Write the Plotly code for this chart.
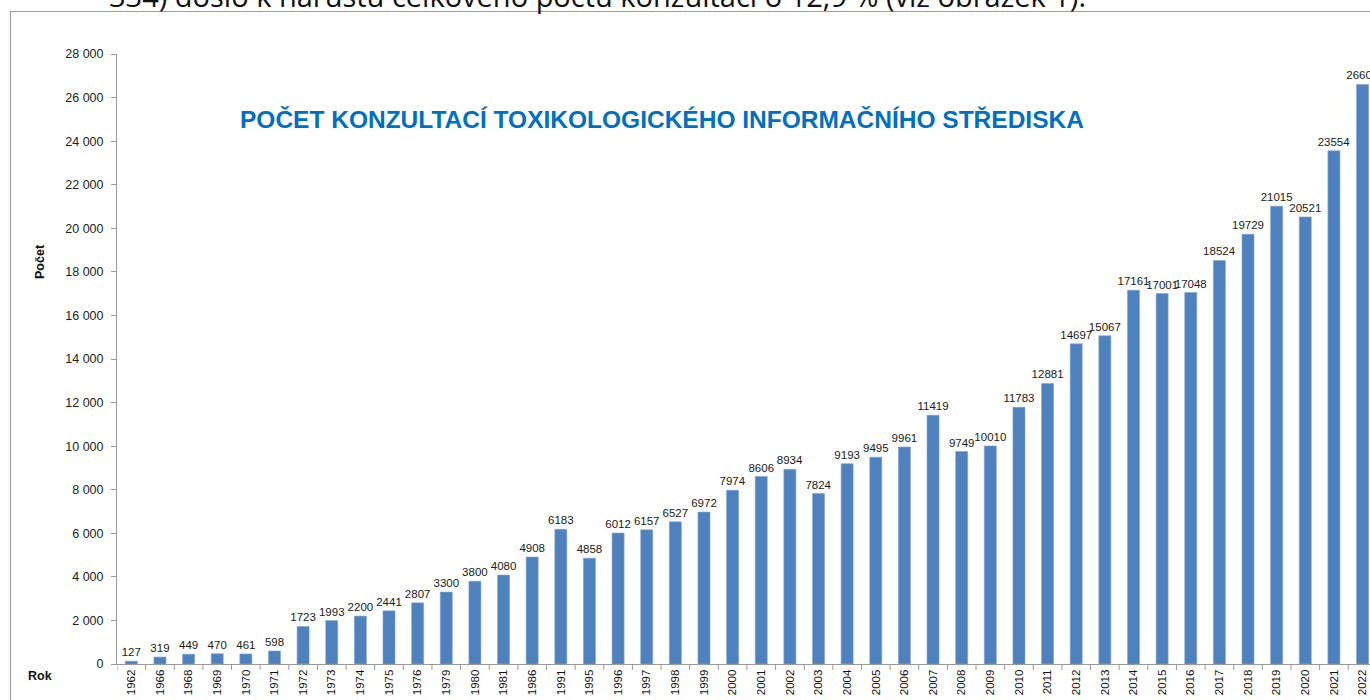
import plotly.graph_objects as go

years = ["1962", "1966", "1968", "1969", "1970", "1971", "1972", "1973", "1974", "1975",
         "1976", "1979", "1980", "1981", "1986", "1991", "1995", "1996", "1997", "1998",
         "1999", "2000", "2001", "2002", "2003", "2004", "2005", "2006", "2007", "2008",
         "2009", "2010", "2011", "2012", "2013", "2014", "2015", "2016", "2017", "2018",
         "2019", "2020", "2021", "2022"]
counts = [127, 319, 449, 470, 461, 598, 1723, 1993, 2200, 2441,
          2807, 3300, 3800, 4080, 4908, 6183, 4858, 6012, 6157, 6527,
          6972, 7974, 8606, 8934, 7824, 9193, 9495, 9961, 11419, 9749,
          10010, 11783, 12881, 14697, 15067, 17161, 17001, 17048, 18524, 19729,
          21015, 20521, 23554, 26604]

title_text = "POČET KONZULTACÍ TOXIKOLOGICKÉHO INFORMAČNÍHO STŘEDISKA"
top_text = "334) došlo k nárůstu celkového počtu konzultací o 12,9 % (viz obrázek 1)."

W, H = 1370, 700
L, T, B = 117, 54, 36
PW = W - L
PH = H - T - B

def px(x):
    return (x - L) / PW

def py(y):
    return (H - B - y) / PH

fig = go.Figure()
fig.add_trace(go.Bar(
    x=list(range(len(years))), y=counts,
    marker=dict(color="#4F81BD", line=dict(color="#7FA3D0", width=0.6)),
    width=0.42,
    text=[str(c) for c in counts],
    textposition="outside",
    constraintext="none",
    textfont=dict(family="Liberation Sans, Arial", size=11.5, color="#1a1a1a"),
    cliponaxis=True,
    hoverinfo="skip",
))

fig.update_layout(
    width=W, height=H,
    margin=dict(l=L, r=0, t=T, b=B, pad=0),
    paper_bgcolor="white", plot_bgcolor="white",
    showlegend=False,
    separators=", ",
    font=dict(family="Liberation Sans, Arial", color="#222"),
)
fig.update_xaxes(
    type="linear",
    range=[-0.5, 43.26],
    tickmode="array",
    tickvals=list(range(len(years))),
    ticktext=years,
    tickangle=-90,
    tickfont=dict(size=11.5, color="#111"),
    showline=True, linecolor="#9a9a9a", linewidth=1,
    ticks="", showgrid=False, zeroline=False,
)
fig.update_yaxes(
    range=[0, 28000], dtick=2000, tickformat=",d",
    tickfont=dict(size=12.5, color="#222"),
    showline=True, linecolor="#9a9a9a", linewidth=1,
    ticks="outside", ticklen=5, tickcolor="#9a9a9a",
    ticklabelstandoff=5,
    showgrid=False, zeroline=False,
)

# boundary tick marks on x axis (Excel style)
shapes = []
for i in range(len(years) + 1):
    xb = i - 0.5
    shapes.append(dict(type="line", xref="x", yref="paper", x0=xb, x1=xb,
                       y0=0, y1=-6 / PH, line=dict(color="#9a9a9a", width=1)))
# outer frame
shapes.append(dict(type="path", xref="paper", yref="paper",
                   path=f"M {px(10.5)} {py(H + 5)} L {px(10.5)} {py(11.5)} L {px(W + 5)} {py(11.5)}",
                   line=dict(color="#a0a0a0", width=1.2)))
fig.update_layout(shapes=shapes)

fig.add_annotation(text=title_text, xref="paper", yref="paper",
                   x=px(662), y=py(119), xanchor="center", yanchor="middle",
                   showarrow=False,
                   font=dict(family="Liberation Sans, Arial", size=24.5, color="#0070C0",
                             weight="bold"))
fig.add_annotation(text="Počet", xref="paper", yref="paper",
                   x=px(40), y=py(262), xanchor="center", yanchor="middle",
                   textangle=-90, showarrow=False,
                   font=dict(family="Liberation Sans, Arial", size=12.5, color="#111",
                             weight="bold"))
fig.add_annotation(text="Rok", xref="paper", yref="paper",
                   x=px(26), y=py(676), xanchor="left", yanchor="middle",
                   showarrow=False,
                   font=dict(family="Liberation Sans, Arial", size=12.5, color="#111",
                             weight="bold"))
fig.add_annotation(text=top_text, xref="paper", yref="paper",
                   x=px(107), y=py(-5), xanchor="left", yanchor="middle",
                   showarrow=False,
                   font=dict(family="Open Sans, Noto Sans", size=29, color="#111"))

post = ("document.body.style.margin='0';"
        "document.documentElement.style.overflow='hidden';"
        "document.body.style.overflow='hidden';")
fig.write_html("out.html", post_script=post, config={"displayModeBar": False})
